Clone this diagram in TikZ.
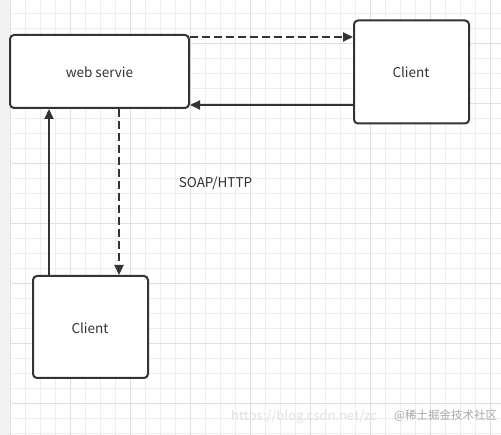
\documentclass[tikz,border=0pt]{standalone}
\usepackage{fontspec}
\setmainfont{Noto Sans CJK SC}
\usetikzlibrary{arrows.meta}
\definecolor{ink}{HTML}{333333}
\definecolor{minorgrid}{HTML}{EEEEEE}
\definecolor{majorgrid}{HTML}{E0E0E0}
\definecolor{strip}{HTML}{F2F2F2}
\definecolor{wmlight}{HTML}{E0E0E0}
\definecolor{wmdark}{HTML}{A8A8A8}
\tikzset{
  box/.style={draw=ink, line width=2pt, rounded corners=4pt, fill=white, inner sep=0pt},
  lbl/.style={text=ink, font=\fontsize{13.5pt}{15pt}\selectfont},
  conn/.style={draw=ink, line width=2pt, -{Triangle[length=10pt,width=9pt]}},
  dconn/.style={conn, dash pattern=on 8pt off 4pt}
}
\begin{document}
\begin{tikzpicture}[x=1pt,y=-1pt]
\useasboundingbox (0,0) rectangle (501,435);
\fill[white] (0,0) rectangle (501,435);
\fill[strip] (0,0) rectangle (10,435);
% minor grid
\foreach \x in {25,40,55,85,100,115,145,160,175,205,220,235,265,280,295,325,340,355,385,400,415,445,460,475}
  \draw[minorgrid, line width=0.8pt] (\x,0) -- (\x,435);
\foreach \y in {13,28,58,73,88,118,133,148,178,193,208,238,253,268,298,313,328,358,373,388,418,433}
  \draw[minorgrid, line width=0.8pt] (10,\y) -- (501,\y);
% major grid
\foreach \x in {10,70,130,190,250,310,370,430,490}
  \draw[majorgrid, line width=0.9pt] (\x,0) -- (\x,435);
\foreach \y in {43,103,163,223,283,343,403}
  \draw[majorgrid, line width=0.9pt] (10,\y) -- (501,\y);

% nodes
\node[box, minimum width=179pt, minimum height=73pt] (web) at (99.5,71.5) {};
\node[lbl] (weblbl) at (99.5,72) {web servie};
\node[box, minimum width=115pt, minimum height=103pt] (c1) at (411.5,72) {};
\node[lbl] (c1lbl) at (411,72) {Client};
\node[box, minimum width=115pt, minimum height=102pt] (c2) at (90.5,327) {};
\node[lbl] (c2lbl) at (90,328) {Client};
\node[lbl] (soap) at (215.5,183) {SOAP/HTTP};

% connectors
\coordinate (ya) at (0,37);
\coordinate (yb) at (0,105);
\coordinate (xa) at (49,0);
\coordinate (xb) at (119,0);
\draw[dconn] (web.east |- ya) -- (c1.west |- ya);
\draw[conn] (c1.west |- yb) -- (web.east |- yb);
\draw[conn] (xa |- c2.north) -- (xa |- web.south);
\draw[dconn] (xb |- web.south) -- (xb |- c2.north);

% watermark
\node[anchor=west, text=wmlight, font=\fontsize{13pt}{15pt}\selectfont, inner sep=0pt] (wm1) at (231,417) {https://blog.csdn.net/zc};
\node[anchor=west, text=wmdark, font=\fontsize{11.5pt}{13pt}\selectfont, inner sep=0pt] (wm2) at (394,416) {@稀土掘金技术社区};
\end{tikzpicture}
\end{document}
